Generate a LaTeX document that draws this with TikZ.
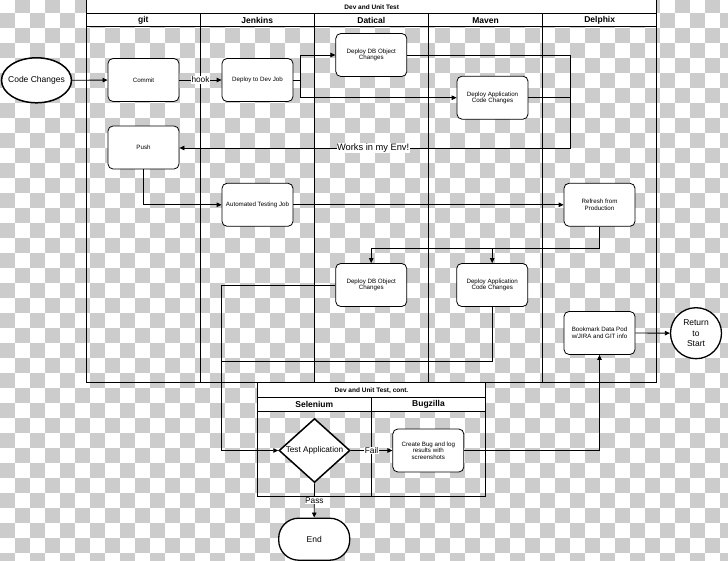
\documentclass[tikz,border=0pt]{standalone}
\usepackage{fontspec}
\setmainfont{Liberation Sans}
\usetikzlibrary{arrows.meta,shapes.geometric,shapes.misc}
\definecolor{checker}{RGB}{204,204,204}
\tikzset{
  proc/.style={draw, fill=white, rounded corners=5pt, line width=0.8pt,
    minimum width=71pt, minimum height=43pt, align=center, inner sep=1pt,
    font=\fontsize{6.2}{6.6}\selectfont},
  lane/.style={line width=0.9pt},
  hdr/.style={font=\fontsize{8.5}{9}\selectfont\bfseries, inner sep=0pt},
  ttl/.style={font=\fontsize{6.5}{7}\selectfont\bfseries, inner sep=0pt},
  conn/.style={line width=0.8pt},
  arr/.style={conn, -{Triangle[length=5pt,width=4.5pt]}},
  lab/.style={fill=white, inner sep=0.5pt, font=\fontsize{8.3}{9}\selectfont},
}
\begin{document}
\begin{tikzpicture}[x=1pt,y=-1pt]
\useasboundingbox (0,0) rectangle (728,561);
% checkerboard background
\begin{scope}
\clip (0,0) rectangle (728,561);
\fill[white] (0,0) rectangle (728,561);
\foreach \i in {0,...,37} {
  \pgfmathtruncatemacro{\off}{mod(\i+1,2)}
  \foreach \k in {0,...,24} {
    \fill[checker] ({15*(2*\k+\off)},{-1.7+15*\i}) rectangle ++(15,15);
  }
}
% main pool
\filldraw[lane, fill=white] (86.7,-3) rectangle (656.7,13.3);
\filldraw[lane, fill=white] (86.7,13.3) rectangle (656.7,26.7);
\draw[lane] (86.7,-3) rectangle (656.7,382.7);
\end{scope}
\foreach \x in {200,314.3,428.3,542.7} \draw[lane] (\x,13.3) -- (\x,382.7);
\node[ttl] (t1) at (371.7,6.9) {Dev and Unit Test};
\node[hdr] (hgit) at (143.3,20.3) {git};
\node[hdr] (hjen) at (257.2,20.3) {Jenkins};
\node[hdr] (hdat) at (371.3,20.3) {Datical};
\node[hdr] (hmav) at (485.5,20.3) {Maven};
\node[hdr] (hdel) at (599.7,20.3) {Delphix};
% second pool
\filldraw[lane, fill=white] (257.3,382.7) rectangle (485.7,397.3);
\filldraw[lane, fill=white] (257.3,397.3) rectangle (485.7,411.7);
\draw[lane] (257.3,382.7) rectangle (485.7,496.7);
\draw[lane] (371.3,397.3) -- (371.3,496.7);
\node[ttl] (t2) at (371.5,390.2) {Dev and Unit Test, cont.};
\node[hdr] (hsel) at (314.3,404.7) {Selenium};
\node[hdr] (hbug) at (428.5,404.7) {Bugzilla};
% nodes
\node[ellipse, draw, fill=white, line width=1.5pt, minimum width=70pt, minimum height=45pt, inner sep=0pt] (cc) at (36.5,80.3) {};
\node[font=\fontsize{8.5}{9}\selectfont, inner sep=0pt] (cctxt) at (cc.center) {Code Changes};
\node[proc] (commit) at (143.5,80) {Commit};
\node[proc] (devjob) at (257.5,80) {Deploy to Dev Job};
\node[proc] (dbtop) at (371.3,55) {Deploy DB Object\\Changes};
\node[proc] (apptop) at (492.5,97.7) {Deploy Application\\Code Changes};
\node[proc] (push) at (143.5,147.5) {Push};
\node[proc] (autotest) at (257.5,204.8) {Automated Testing Job};
\node[proc] (refresh) at (599.5,204.8) {Refresh from\\Production};
\node[proc] (dbbot) at (371.2,285) {Deploy DB Object\\Changes};
\node[proc] (appbot) at (492.2,285) {Deploy Application\\Code Changes};
\node[proc] (bookmark) at (599.5,333) {Bookmark Data Pod\\w/JIRA and GIT info};
\node[circle, draw, fill=white, line width=1.3pt, minimum size=51pt, inner sep=0pt, align=center, font=\fontsize{8.5}{10.3}\selectfont] (ret) at (696,333.2) {Return\\to\\Start};
\node[diamond, draw, fill=white, line width=1.5pt, minimum width=71pt, minimum height=64pt, inner sep=0pt] (test) at (314.5,450.5) {};
\node[font=\fontsize{8.2}{9}\selectfont, inner sep=0pt] (testtxt) at (test.center) {Test Application};
\node[proc] (bug) at (428.3,450.5) {Create Bug and log\\results with\\screenshots};
\node[draw, fill=white, rounded corners=20pt, line width=1.3pt, minimum width=71pt, minimum height=42pt, font=\fontsize{8.5}{9}\selectfont] (endn) at (314.2,539.2) {End};
% connectors
\coordinate (wk) at (570.7,148);
\coordinate (rj) at (599.5,248.3);
\coordinate (tj) at (221.7,450.5);
\coordinate (aj) at (221.7,361.7);
\draw[arr] (cc) -- (commit);
\draw[arr] (commit) -- node[lab] (lhook) {hook} (devjob);
\draw[arr] (devjob.east) -- ++(7,0) |- (dbtop.west);
\draw[arr] (devjob.east) -- ++(7,0) |- (apptop.west);
\draw[conn] (dbtop.east) -| (wk);
\draw[conn] (apptop.east) -| (wk);
\draw[arr] (wk) -- node[lab, pos=0.505, font=\fontsize{9.3}{10}\selectfont] (lworks) {Works in my Env!} (push.east |- wk);
\draw[arr] (push.south) |- (autotest.west);
\draw[arr] (autotest) -- (refresh);
\draw[conn] (refresh.south) -- (rj);
\draw[arr] (rj) -| (dbbot.north);
\draw[arr] (rj) -| (appbot.north);
\draw[arr] (dbbot.west) -| (tj) -- (test.west);
\draw[conn] (appbot.south) |- (aj);
\draw[arr] (test.east) -- node[lab] (lfail) {Fail} (bug.west);
\draw[arr] (bug.east) -| (bookmark.south);
\draw[arr] (bookmark) -- (ret);
\draw[arr] (test.south) -- node[lab] (lpass) {Pass} (endn.north);
\end{tikzpicture}
\end{document}
